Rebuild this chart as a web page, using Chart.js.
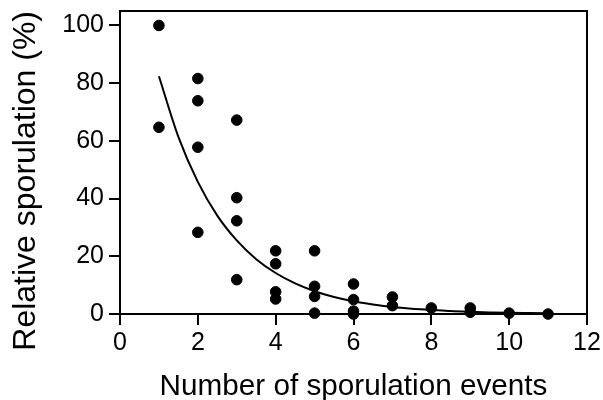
<!DOCTYPE html>
<html>
<head>
<meta charset="utf-8">
<script src="https://cdn.jsdelivr.net/npm/chart.js@4/dist/chart.umd.min.js"></script>
<style>
html,body{margin:0;padding:0;background:#fff;}
#wrap{width:603px;height:400px;position:relative;}
</style>
</head>
<body>
<div id="wrap"><canvas id="c" width="603" height="400"></canvas></div>
<script>
// Observed data points (number of sporulation events vs relative sporulation %)
const eventsX = [1,1, 2,2,2,2, 3,3,3,3, 4,4,4,4, 5,5,5,5, 6,6,6,6, 7,7, 8, 9,9, 10, 11];
const sporulationY = [100,64.7, 81.6,73.9,57.8,28.3, 67.2,40.3,32.3,11.9, 21.9,17.4,7.7,5.2, 21.9,9.6,6.1,0.3, 10.4,5.0,1.0,0, 5.9,2.9, 2.1, 2.1,0.6, 0.3, 0];
// Fitted curve
const curveX = [1,1.5,2,2.5,3,3.5,4,4.5,5,5.5,6,6.5,7,7.5,8,8.5,9,9.5,10,10.5,11];
const curveY = [82.4,61.4,45.8,34.1,25.5,19.0,14.2,10.6,7.9,5.9,4.4,3.3,2.4,1.8,1.4,1.0,0.75,0.56,0.4,0.31,0.23];
const xTicks = [0,2,4,6,8,10,12];
const yTicks = [0,20,40,60,80,100];

const pts = eventsX.map((x,i)=>({x:x,y:sporulationY[i]}));
const curve = curveX.map((x,i)=>({x:x,y:curveY[i]}));

const frame = {
  id:'frame',
  afterDraw(chart){
    const a = chart.chartArea, ctx = chart.ctx;
    ctx.save();
    ctx.strokeStyle='#000';
    ctx.lineWidth=2;
    ctx.beginPath();
    ctx.moveTo(a.left, a.top);
    ctx.lineTo(a.right, a.top);
    ctx.lineTo(a.right, a.bottom);
    ctx.stroke();
    ctx.restore();
  }
};

const fontFam = '"Liberation Sans", Arial, Helvetica, sans-serif';

new Chart(document.getElementById('c'), {
  type:'scatter',
  data:{
    datasets:[
      {data:pts, backgroundColor:'#000', borderColor:'#000', pointRadius:5.3, pointHoverRadius:5.3, clip:false, order:1},
      {data:curve, showLine:true, borderColor:'#000', borderWidth:2, pointRadius:0, cubicInterpolationMode:'monotone', fill:false, clip:false, order:2}
    ]
  },
  options:{
    responsive:false,
    animation:false,
    events:[],
    layout:{padding:{top:11,right:16,left:0,bottom:0}},
    plugins:{legend:{display:false},tooltip:{enabled:false}},
    scales:{
      x:{
        type:'linear', min:0, max:12,
        afterBuildTicks(s){ s.ticks = xTicks.map(v=>({value:v})); },
        afterFit(s){ s.height = 86; s.paddingLeft = 0; s.paddingRight = 0; },
        grid:{drawOnChartArea:false, drawTicks:true, tickLength:11, color:'#000', lineWidth:2},
        border:{display:true, color:'#000', width:2},
        ticks:{color:'#000', font:{family:fontFam, size:25}, padding:3, maxRotation:0},
        title:{display:true, text:'Number of sporulation events', color:'#000', font:{family:fontFam, size:29.7, lineHeight:1}, padding:{top:0,bottom:-2}}
      },
      y:{
        type:'linear', min:0, max:105,
        afterBuildTicks(s){ s.ticks = yTicks.map(v=>({value:v})); },
        afterFit(s){ s.width = 120; s.paddingTop = 0; s.paddingBottom = 0; },
        grid:{drawOnChartArea:false, drawTicks:true, tickLength:11, color:'#000', lineWidth:2},
        border:{display:true, color:'#000', width:2},
        ticks:{color:'#000', font:{family:fontFam, size:25}, padding:5},
        title:{display:true, align:'end', text:'Relative sporulation (%)', color:'#000', font:{family:fontFam, size:32, lineHeight:1}, padding:{top:10,bottom:0}}
      }
    }
  },
  plugins:[frame]
});
</script>
</body>
</html>
